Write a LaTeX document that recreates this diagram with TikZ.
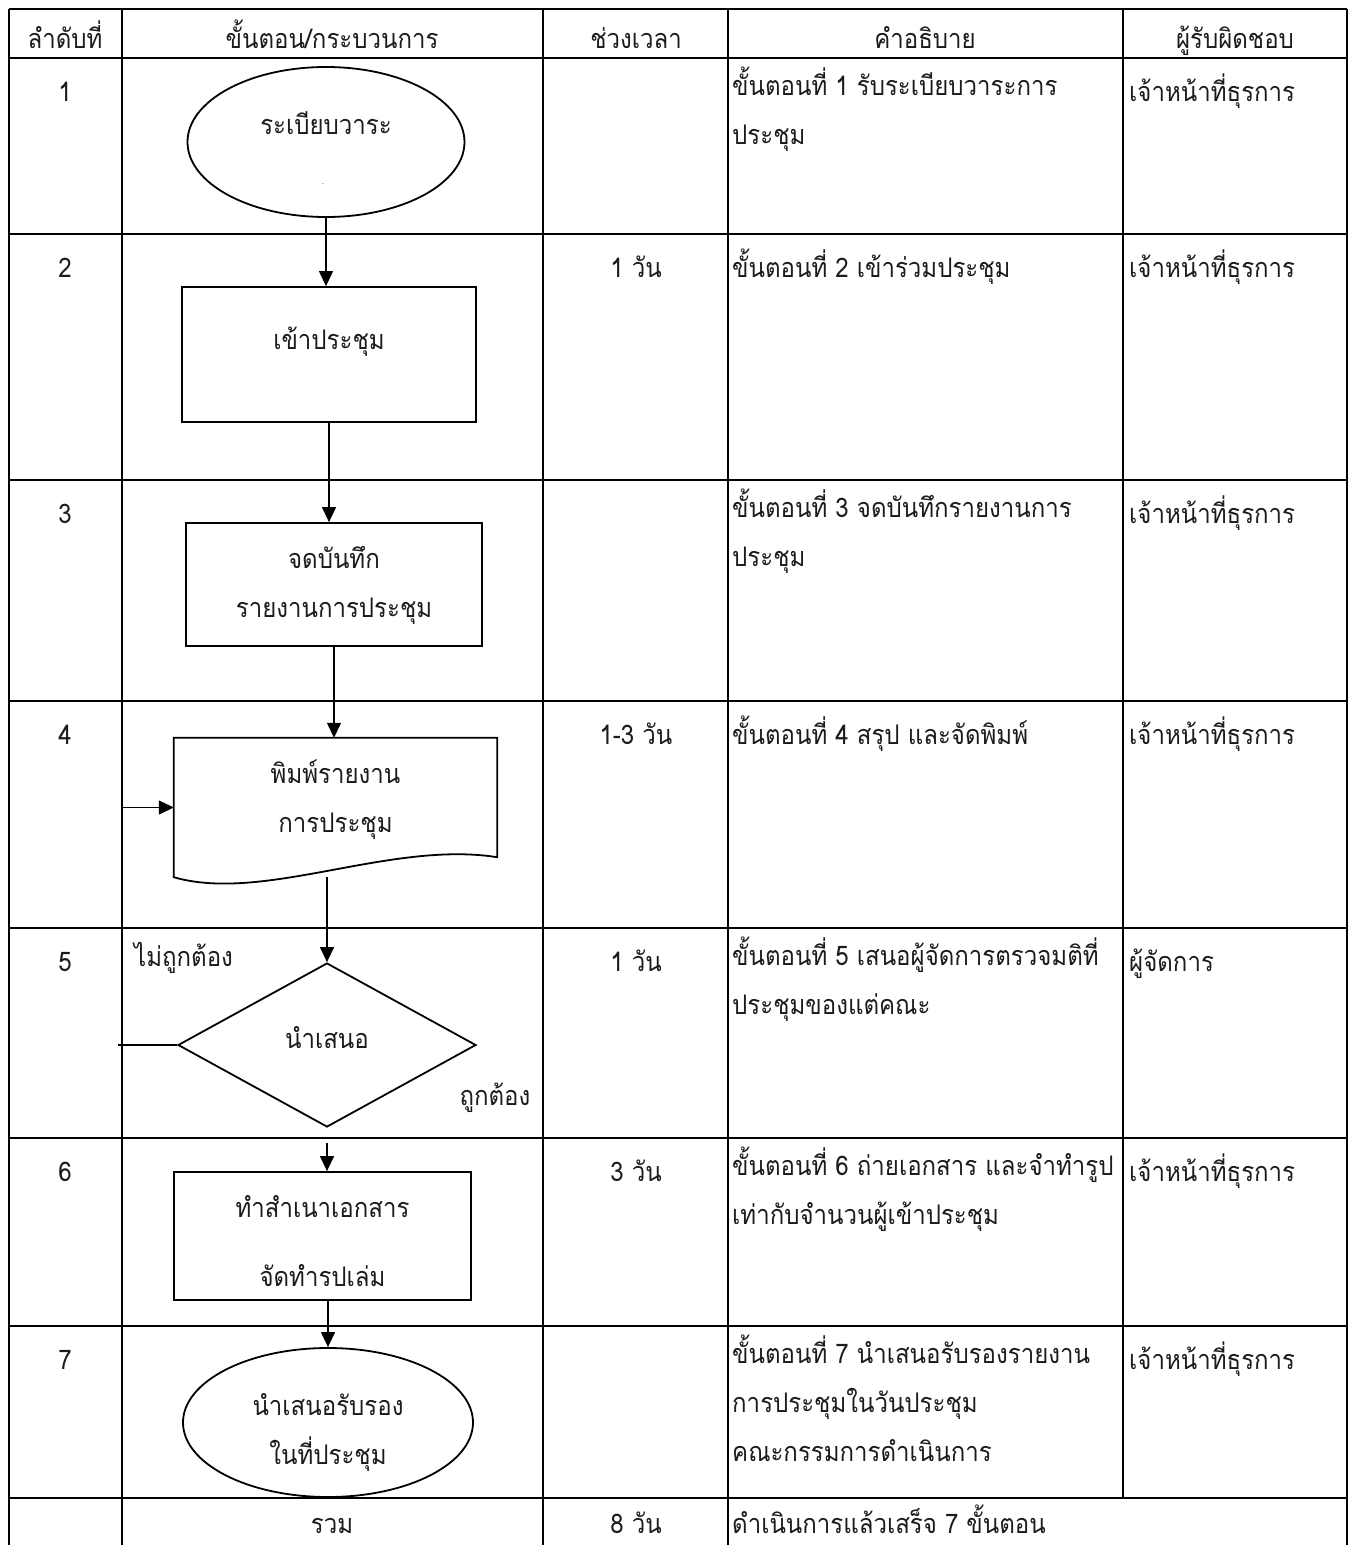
\documentclass[tikz,border=0pt]{standalone}
\usepackage{fontspec}
\setmainfont[Script=Thai,FakeStretch=0.89]{Loma}
\usepackage{tikz}
\usetikzlibrary{arrows.meta,calc,positioning,shapes.geometric}
\definecolor{trazo}{HTML}{000000}
\definecolor{letra}{HTML}{1C1C1C}
\tikzset{
  rejilla/.style={draw=trazo,line width=2pt},
  texto/.style={font=\fontsize{27}{49}\selectfont,text=letra,inner sep=0pt},
  celda/.style={texto,anchor=north,execute at begin node=\strut},
  celdaizq/.style={texto,anchor=north west,align=left,execute at begin node=\strut},
  pie/.style={texto,anchor=base},
  rotulo/.style={texto,align=center},
  forma/.style={draw=trazo,line width=1.8pt,fill=white,inner sep=0pt},
  ovalo/.style={forma,ellipse},
  caja/.style={forma,rectangle},
  rombo/.style={forma,diamond},
  hoja/.style={rectangle,inner sep=0pt},
  linea/.style={draw=trazo,line width=1.3pt},
  flecha/.style={linea,-{Triangle[length=15pt,width=14pt]}},
}
\begin{document}
\begin{tikzpicture}[x=1pt,y=-1pt]
\useasboundingbox (0,0) rectangle (1354,1545);
% tabla
\draw[rejilla] (9,9) -- (1347,9);
\draw[rejilla] (9,58) -- (1347,58);
\draw[rejilla] (9,234) -- (1347,234);
\draw[rejilla] (9,480) -- (1347,480);
\draw[rejilla] (9,701) -- (1347,701);
\draw[rejilla] (9,928) -- (1347,928);
\draw[rejilla] (9,1138) -- (1347,1138);
\draw[rejilla] (9,1326) -- (1347,1326);
\draw[rejilla] (9,1498) -- (1347,1498);
\draw[rejilla] (9,9) -- (9,1545);
\draw[rejilla] (122,9) -- (122,1545);
\draw[rejilla] (543,9) -- (543,1545);
\draw[rejilla] (728,9) -- (728,1545);
\draw[rejilla] (1123,9) -- (1123,1498);
\draw[rejilla] (1347,9) -- (1347,1545);
\coordinate (xc) at (122,0);
\coordinate (xr) at (118,0);
% encabezado
\node[celda] (h1) at (65,14) {ลำดับที่};
\node[celda] (h2) at (332,14) {ขั้นตอน/กระบวนการ};
\node[celda] (h3) at (636,14) {ช่วงเวลา};
\node[celda] (h4) at (925,14) {คำอธิบาย};
\node[celda] (h5) at (1235,14) {ผู้รับผิดชอบ};
% columna 1
\node[celda] (n1) at (65,67) {1};
\node[celda] (n2) at (65,243) {2};
\node[celda] (n3) at (65,489) {3};
\node[celda] (n4) at (65,710) {4};
\node[celda] (n5) at (65,937) {5};
\node[celda] (n6) at (65,1147) {6};
\node[celda] (n7) at (65,1335) {7};
% columna 3
\node[celda] (d2) at (636,243) {1 วัน};
\node[celda] (d4) at (636,710) {1-3 วัน};
\node[celda] (d5) at (636,937) {1 วัน};
\node[celda] (d6) at (636,1147) {3 วัน};
% columna 4
\node[celdaizq] (p1) at (732,67) {ขั้นตอนที่ 1 รับระเบียบวาระการ\\ประชุม};
\node[celdaizq] (p2) at (732,243) {ขั้นตอนที่ 2 เข้าร่วมประชุม};
\node[celdaizq] (p3) at (732,489) {ขั้นตอนที่ 3 จดบันทึกรายงานการ\\ประชุม};
\node[celdaizq] (p4) at (732,710) {ขั้นตอนที่ 4 สรุป และจัดพิมพ์};
\node[celdaizq] (p5) at (732,937) {ขั้นตอนที่ 5 เสนอผู้จัดการตรวจมติที่\\ประชุมของแต่คณะ};
\node[celdaizq] (p6) at (732,1147) {ขั้นตอนที่ 6 ถ่ายเอกสาร และจำทำรูป\\เท่ากับจำนวนผู้เข้าประชุม};
\node[celdaizq] (p7) at (732,1335) {ขั้นตอนที่ 7 นำเสนอรับรองรายงาน\\การประชุมในวันประชุม\\คณะกรรมการดำเนินการ};
% columna 5
\node[celdaizq] (r1) at (1129,67) {เจ้าหน้าที่ธุรการ};
\node[celdaizq] (r2) at (1129,243) {เจ้าหน้าที่ธุรการ};
\node[celdaizq] (r3) at (1129,489) {เจ้าหน้าที่ธุรการ};
\node[celdaizq] (r4) at (1129,710) {เจ้าหน้าที่ธุรการ};
\node[celdaizq] (r5) at (1129,937) {ผู้จัดการ};
\node[celdaizq] (r6) at (1129,1147) {เจ้าหน้าที่ธุรการ};
\node[celdaizq] (r7) at (1129,1335) {เจ้าหน้าที่ธุรการ};
% total
\node[pie] (s8) at (332,1533) {รวม};
\node[pie] (d8) at (636,1533) {8 วัน};
\node[pie,anchor=base west] (p8) at (732,1533) {ดำเนินการแล้วเสร็จ 7 ขั้นตอน};
% flujo
\node[ovalo,minimum width=277,minimum height=150] (e1) at (326,142) {};
\node[rotulo] (e1t) at (326,123) {ระเบียบวาระ};
\node[texto,font=\fontsize{8}{8}\selectfont] (e1p) at (323,184) {.};
\node[caja,minimum width=294,minimum height=135] (b2) at (329,354.5) {};
\node[rotulo] (b2t) at (329,342) {เข้าประชุม};
\node[caja,minimum width=296,minimum height=123] (b3) at (334,584.5) {};
\node[rotulo] (b3t) at (334,585) {จดบันทึก\\รายงานการประชุม};
\node[hoja,minimum width=323,minimum height=139] (f4) at (335.5,807.5) {};
\draw[trazo,line width=1.8pt,fill=white] (f4.north west) -- (f4.north east) -- ($(f4.south east)+(0,-20)$)
  .. controls ($(f4.south east)+(-107,-37)$) and ($(f4.south west)+(90,26)$) .. (f4.south west) -- cycle;
\node[rotulo] (f4t) at (335.5,800) {พิมพ์รายงาน\\การประชุม};
\node[rombo,minimum width=298,minimum height=164] (k5) at (327,1045) {};
\node[rotulo] (k5t) at (327,1038) {นำเสนอ};
\node[caja,minimum width=297,minimum height=128] (b6) at (322.5,1236) {};
\node[rotulo] (b6t) at (322.5,1241) {ทำสำเนาเอกสาร\\[20pt]จัดทำรปเล่ม};
\node[ovalo,minimum width=290,minimum height=149] (e7) at (328,1422.5) {};
\node[rotulo] (e7t) at (328,1433) {นำเสนอรับรอง\\ในที่ประชุม};
\node[texto,anchor=west] (no) at (134,958) {ไม่ถูกต้อง};
\node[texto] (si) at (495,1098) {ถูกต้อง};
\coordinate (k5b) at ($(k5.south)+(0,15)$);
\draw[flecha] (e1.south) -- (e1.south |- b2.north);
\draw[flecha] (b2.south) -- (b2.south |- b3.north);
\draw[flecha] (b3.south) -- (b3.south |- f4.north);
\draw[flecha] (k5.north |- f4.south) -- (k5.north);
\draw[flecha] (k5b) -- (k5b |- b6.north);
\draw[flecha] (e7.north |- b6.south) -- (e7.north);
\draw[linea] (k5.west) -- (k5.west -| xr);
\draw[flecha] (k5.west -| xc) -- (f4.west -| xc) -- (f4.west);
\end{tikzpicture}
\end{document}
